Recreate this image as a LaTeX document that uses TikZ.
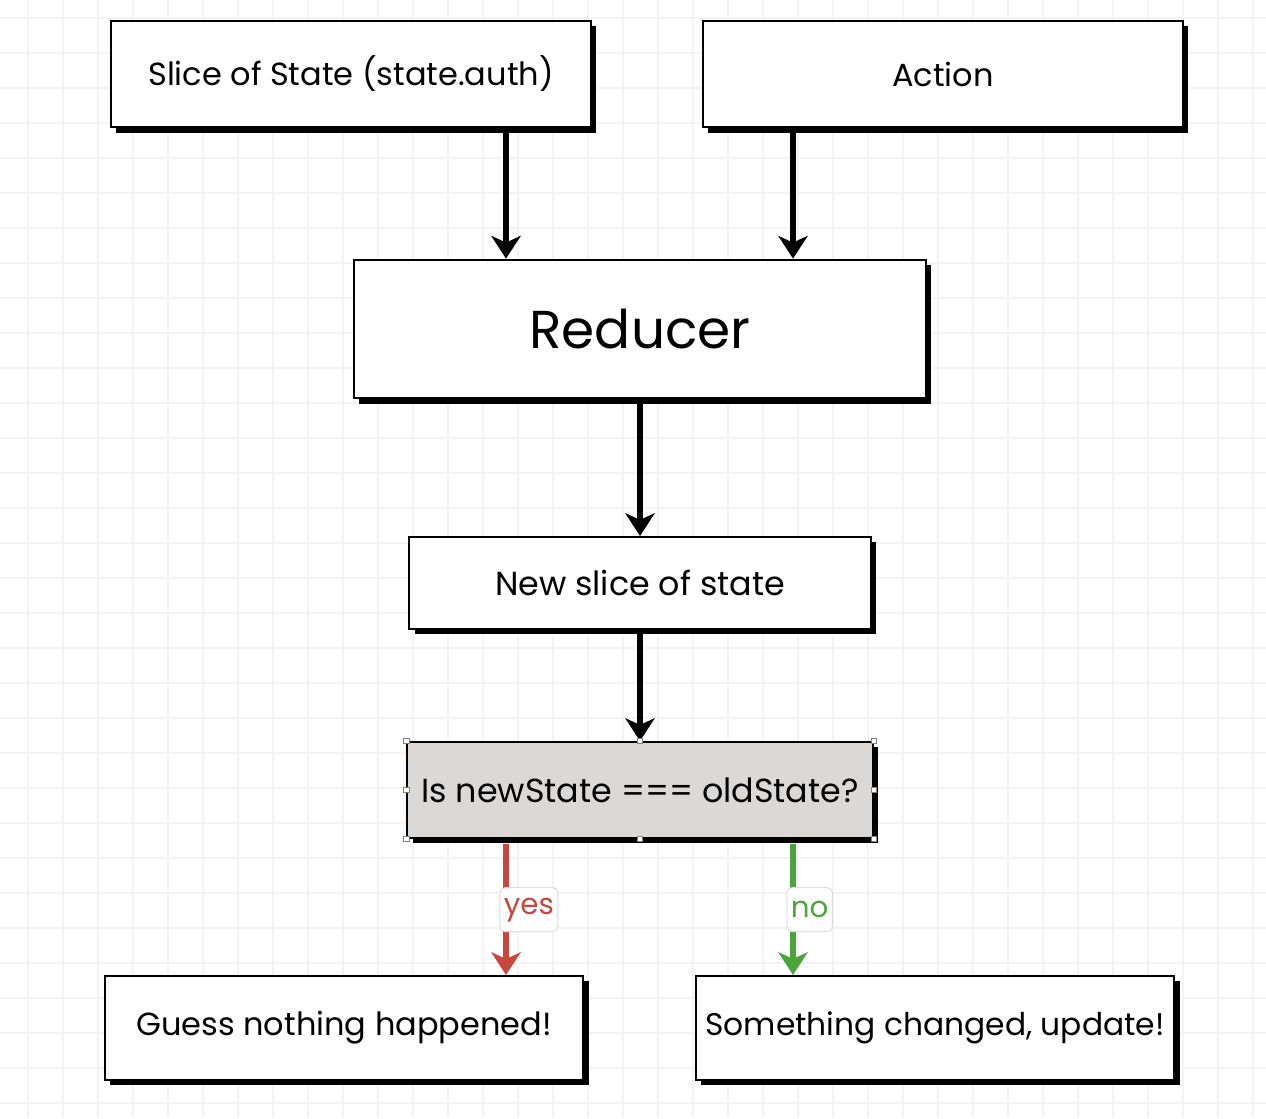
\documentclass[tikz,border=0pt]{standalone}
\usepackage{fontspec}
\setmainfont{Poppins}
\usetikzlibrary{arrows.meta,shadows,calc}
\definecolor{gridc}{HTML}{F3F3F3}
\definecolor{yesc}{HTML}{C8473C}
\definecolor{noc}{HTML}{4CA53A}
\definecolor{qfill}{HTML}{DCD8D6}
\definecolor{lblc}{HTML}{DDDDDD}
\begin{document}
\begin{tikzpicture}[x=0.75pt,y=-0.75pt,
  box/.style={draw=black, line width=1.6pt, fill=white, inner sep=0pt,
    drop shadow={shadow xshift=4pt, shadow yshift=-4pt, fill=black, opacity=1},
    font=\fontsize{24}{28}\selectfont},
  arr/.style={line width=4pt, -{Stealth[length=17pt,width=22pt,inset=5pt]}},
  lbl/.style={draw=lblc, line width=0.8pt, fill=white, rounded corners=4pt,
    inner xsep=3pt, inner ysep=0pt, minimum height=33pt, font=\fontsize{22}{26}\selectfont, anchor=west, xshift=-5pt},
  handle/.style={draw=gray, fill=white, line width=0.5pt, minimum size=4pt, inner sep=0pt}]
\useasboundingbox (0,0) rectangle (1266,1118);
\fill[white] (0,0) rectangle (1266,1118);
\foreach \x in {28,63,...,1266} \draw[gridc, line width=0.8pt] (\x,0) -- (\x,1118);
\foreach \y in {18,53,...,1118} \draw[gridc, line width=0.8pt] (0,\y) -- (1266,\y);

\node[box, minimum width=360pt, minimum height=80pt] (slice) at (351,74) {Slice of State (state.auth)};
\node[box, minimum width=360pt, minimum height=80pt] (action) at (943,74) {Action};
\node[box, minimum width=429pt, minimum height=104pt, font=\fontsize{40}{46}\selectfont] (reducer) at (640,329) {Reducer};
\node[box, minimum width=346pt, minimum height=69pt, font=\fontsize{25}{29}\selectfont] (newslice) at (640,583) {New slice of state};
\node[box, fill=qfill, minimum width=349pt, minimum height=72pt, font=\fontsize{25}{29}\selectfont] (q) at (640,790) {Is newState === oldState?};
\node[box, minimum width=359pt, minimum height=78pt] (guess) at (344,1028) {Guess nothing happened!};
\node[box, minimum width=359pt, minimum height=78pt, font=\fontsize{23.5}{28}\selectfont] (changed) at (935,1028) {Something changed, update!};

\coordinate (cl) at (506,0);
\coordinate (cr) at (793,0);

\draw[arr] (slice.south -| cl) -- (reducer.north -| cl);
\draw[arr] (action.south -| cr) -- (reducer.north -| cr);
\draw[arr] (reducer.south) -- (newslice.north);
\draw[arr] (newslice.south) -- (q.north);
\draw[arr, yesc] ([yshift=-4pt]q.south -| cl) -- node[lbl, text=yesc, pos=0.5] {yes} (guess.north -| cl);
\draw[arr, noc] ([yshift=-4pt]q.south -| cr) -- node[lbl, text=noc, pos=0.5] {no} (changed.north -| cr);

\foreach \a in {north west,north,north east,east,south east,south,south west,west}
  \node[handle] (h-\a) at (q.\a) {};
\end{tikzpicture}
\end{document}
